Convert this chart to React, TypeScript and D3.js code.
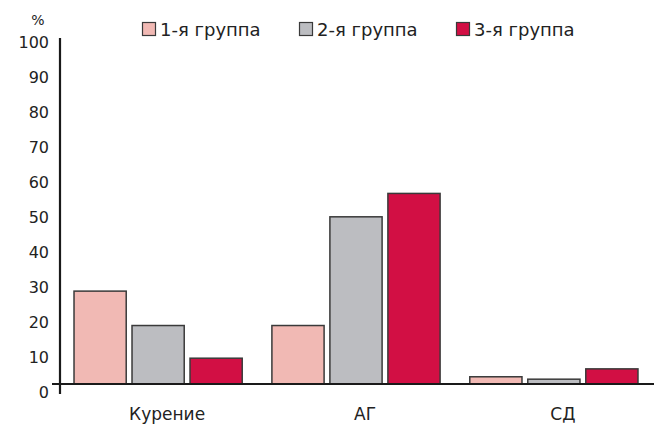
import React from "react";
import * as d3 from "d3";

const categories = ["Курение", "АГ", "СД"];
const groups = ["1-я группа", "2-я группа", "3-я группа"];
const group1 = [27, 17, 2.1];
const group2 = [17, 48.6, 1.4];
const group3 = [7.5, 55.4, 4.4];
const yTicks = [0, 10, 20, 30, 40, 50, 60, 70, 80, 90, 100];
const colors = ["#F1B9B4", "#BCBDC1", "#D20F44"];

const W = 654;
const H = 426;
const font = "'DejaVu Sans', Arial, sans-serif";

export default function App() {
  const series = [group1, group2, group3];
  const y = d3.scaleLinear().domain([0, 100]).range([384, 40]);
  const yLabel = d3.scaleLinear().domain([0, 100]).range([392, 42]);
  const x0 = d3.scaleBand<string>().domain(categories).range([57, 655]).paddingInner(0.15).paddingOuter(0.086);
  const x1 = d3.scaleBand<string>().domain(groups).range([0, x0.bandwidth()]).paddingInner(0.1).paddingOuter(0);

  return (
    <svg width={W} height={H} style={{ position: "absolute", left: 0, top: 0, background: "#fff" }} fontFamily={font}>
      {categories.map((c, ci) =>
        groups.map((g, gi) => {
          const v = series[gi][ci];
          const top = y(v);
          return (
            <rect
              key={c + g}
              x={(x0(c) ?? 0) + (x1(g) ?? 0)}
              y={top}
              width={x1.bandwidth()}
              height={y(0) - top}
              fill={colors[gi]}
              stroke="#3a3a3a"
              strokeWidth={1.5}
            />
          );
        })
      )}
      <line x1={60} x2={60} y1={38} y2={394} stroke="#1a1a1a" strokeWidth={2.2} />
      <line x1={52} x2={654} y1={y(0)} y2={y(0)} stroke="#1a1a1a" strokeWidth={2.2} />
      {yTicks.map((t) => (
        <text key={t} x={49} y={yLabel(t)} textAnchor="end" dominantBaseline="central" fontSize={16} fill="#222">
          {t}
        </text>
      ))}
      <text x={38} y={20} textAnchor="middle" dominantBaseline="central" fontSize={14} fill="#222">
        %
      </text>
      {categories.map((c) => (
        <text key={c} x={(x0(c) ?? 0) + x0.bandwidth() / 2 + 9} y={420} textAnchor="middle" fontSize={17} fill="#222">
          {c}
        </text>
      ))}
      {groups.map((g, gi) => (
        <g key={g} transform={`translate(${142 + gi * 157},22)`}>
          <rect x={0.5} y={0.5} width={13} height={13} fill={colors[gi]} stroke="#3a3a3a" strokeWidth={1.2} />
          <text x={18} y={7.5} dominantBaseline="central" fontSize={18} fill="#222">
            {g}
          </text>
        </g>
      ))}
    </svg>
  );
}
